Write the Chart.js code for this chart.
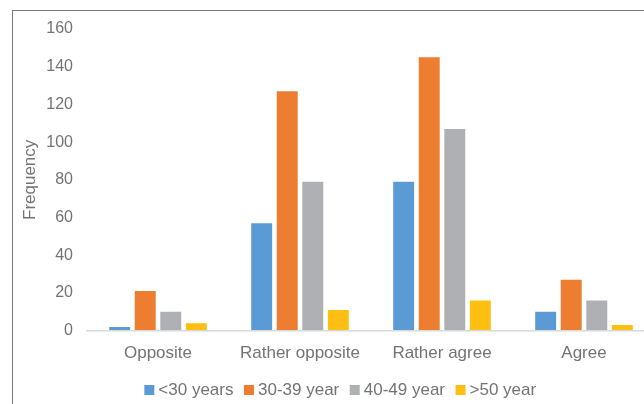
<!DOCTYPE html>
<html>
<head>
<meta charset="utf-8">
<script src="https://cdn.jsdelivr.net/npm/chart.js@4/dist/chart.umd.min.js"></script>
<style>
  html, body { margin: 0; padding: 0; width: 644px; height: 404px; overflow: hidden; background: #fff; }
  #frame { position: absolute; left: 12px; top: 10px; width: 700px; height: 420px;
           border-top: 1.5px solid #7a7a7a; border-left: 1.5px solid #7a7a7a; }
  #c { position: absolute; left: 0; top: 0; }
</style>
</head>
<body>
<div id="frame"></div>
<canvas id="c" width="685" height="420"></canvas>
<script>
const categories = ["Opposite", "Rather opposite", "Rather agree", "Agree"];
const seriesNames = ["<30 years", "30-39 year", "40-49 year", ">50 year"];
const under30 = [2, 57, 79, 10];
const age30to39 = [21, 127, 145, 27];
const age40to49 = [10, 79, 107, 16];
const over50 = [4, 11, 16, 3];
const yTicks = [0, 20, 40, 60, 80, 100, 120, 140, 160];
const colors = ["#5B9BD5", "#ED7D31", "#AFB0B3", "#FDC012"];

const seriesValues = [under30, age30to39, age40to49, over50];
const textColor = "#737373";
const fontFamily = "'Liberation Sans', Arial, sans-serif";

const chart = new Chart(document.getElementById("c"), {
  type: "bar",
  data: {
    labels: categories,
    datasets: seriesValues.map((vals, i) => ({
      label: seriesNames[i],
      data: vals,
      backgroundColor: colors[i],
      borderWidth: 0,
      categoryPercentage: 0.72,
      barPercentage: 0.82
    }))
  },
  options: {
    responsive: false,
    animation: false,
    devicePixelRatio: 1,
    layout: { padding: { left: 0, right: 0, top: 29, bottom: 11.5 } },
    plugins: {
      tooltip: { enabled: false },
      legend: {
        position: "bottom",
        labels: {
          usePointStyle: true,
          pointStyle: "rect",
          boxWidth: 1,
          boxHeight: 10,
          padding: 15,
          color: textColor,
          font: { family: fontFamily, size: 17 }
        }
      }
    },
    scales: {
      x: {
        grid: { display: false, drawTicks: false },
        border: { display: true, color: "#d9d9d9", width: 1.5, z: 1 },
        ticks: { color: textColor, font: { family: fontFamily, size: 17 }, padding: 12, maxRotation: 0 },
        afterFit: s => { s.height = 35.8; }
      },
      y: {
        min: 0,
        max: 160,
        grid: { display: false, drawTicks: false },
        border: { display: false },
        afterBuildTicks: s => { s.ticks = yTicks.map(v => ({ value: v })); },
        ticks: { color: textColor, font: { family: fontFamily, size: 16 }, padding: 14 },
        title: { display: true, text: "Frequency", color: textColor,
                 font: { family: fontFamily, size: 17 }, padding: { top: 20, bottom: 0 } },
        afterFit: s => { s.width = 87; }
      },
      yR: {
        type: "linear",
        position: "right",
        display: true,
        grid: { display: false, drawTicks: false },
        border: { display: false },
        ticks: { display: false },
        afterFit: s => { s.width = 30; }
      }
    }
  }
});
</script>
</body>
</html>
